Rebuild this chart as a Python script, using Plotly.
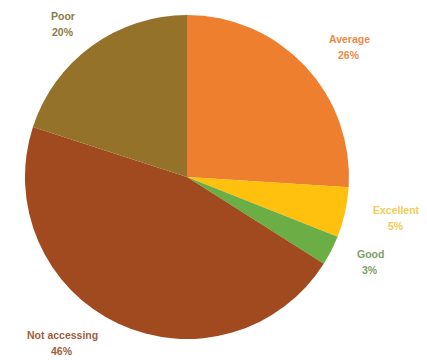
import plotly.graph_objects as go

# Survey responses: share of respondents per rating
categories = ["Average", "Excellent", "Good", "Not accessing", "Poor"]
shares = [26, 5, 3, 46, 20]
slice_colors = ["#EE7F2E", "#FFC10E", "#6AAE45", "#A14A1F", "#95722A"]
label_colors = ["#EE8A45", "#F2CC55", "#7FA068", "#A0603E", "#8F7A45"]

# Label centre points in pixels (x from left, y from top) around the pie
W, H = 427, 360
label_px = {
    "Average": (349, 47),
    "Excellent": (396, 218),
    "Good": (370, 262),
    "Not accessing": (62, 343),
    "Poor": (63, 24),
}
LINE_GAP = 16  # pixels between the name line and the percentage line

fig = go.Figure(
    go.Pie(
        labels=categories,
        values=shares,
        sort=False,
        direction="clockwise",
        rotation=0,
        marker=dict(colors=slice_colors, line=dict(width=0)),
        textinfo="none",
        hoverinfo="label+percent",
        showlegend=False,
        domain=dict(x=[0.0585, 0.8173], y=[0.0556, 0.961]),
    )
)

total = sum(shares)
font_family = "Liberation Sans, Arial, sans-serif"
for name, val, col in zip(categories, shares, label_colors):
    cx, cy = label_px[name]
    pct = round(100 * val / total)
    for txt, dy in ((name, -LINE_GAP / 2), (f"{pct}%", LINE_GAP / 2)):
        fig.add_annotation(
            x=cx / W, y=1 - (cy + dy) / H, xref="paper", yref="paper",
            xanchor="center", yanchor="middle",
            text=f"<b>{txt}</b>",
            showarrow=False,
            font=dict(family=font_family, size=10.5, color=col),
        )

fig.update_layout(
    width=W,
    height=H,
    margin=dict(l=0, r=0, t=0, b=0),
    paper_bgcolor="white",
    plot_bgcolor="white",
)

fig.write_html("out.html")
